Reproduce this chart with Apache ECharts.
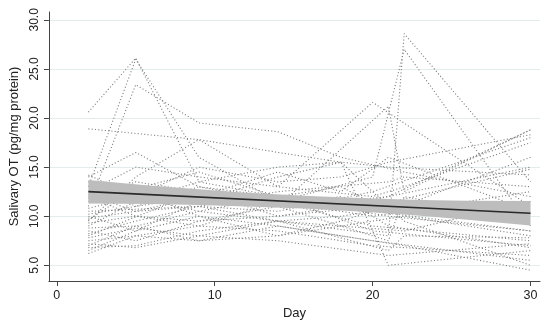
<!DOCTYPE html>
<html><head><meta charset="utf-8">
<script src="https://cdn.jsdelivr.net/npm/echarts@6/dist/echarts.min.js"></script>
<style>html,body{margin:0;padding:0;background:#fff}#c{width:550px;height:326px}</style>
</head><body><div id="c"></div>
<script>
// Measurement days (grid shared by all subjects; null = not measured)
const dayGrid = [2, 5, 9, 14, 18, 20, 21, 22, 30];
// Individual subject trajectories (Salivary OT, pg/mg protein)
const subjects = [
  [20.6, 26.1, 13.5, 12.0, null, null, 10.0, null, 8.5],
  [13.0, 26.0, 16.0, 11.5, null, 9.0, null, null, 7.5],
  [11.0, 23.4, 19.5, 18.6, 16.0, null, null, 14.5, 12.0],
  [18.9, null, 17.8, 16.5, 15.5, null, 15.0, null, 14.2],
  [9.5, 14.0, 17.8, 13.0, null, 21.6, null, null, 11.0],
  [8.0, null, 12.5, 11.0, null, null, 21.2, 12.5, 18.8],
  [10.5, null, 11.0, 9.5, null, null, 8.0, 28.6, 13.5],
  [12.0, 10.0, 9.0, 11.5, null, 14.0, null, 27.0, 9.0],
  [14.2, 12.0, 15.0, 13.5, 14.0, null, 15.5, null, 18.3],
  [7.0, 9.0, 10.5, 12.0, null, 8.5, null, null, 7.0],
  [6.2, 8.0, 7.5, 9.0, 8.0, null, null, 7.0, 4.5],
  [9.0, 11.5, 13.5, 15.0, 15.5, null, 5.0, null, 6.5],
  [11.5, 12.5, 10.0, 8.0, null, 9.5, null, 10.0, 8.0],
  [8.5, 7.5, 9.5, 10.0, 11.0, null, 12.0, null, 15.0],
  [12.5, 15.0, 14.0, 13.0, null, 12.0, null, 13.0, 17.5],
  [10.0, 8.5, 11.5, 14.0, 15.5, null, null, 9.5, 5.0],
  [7.5, 8.0, 9.0, 8.5, null, 7.0, null, null, 6.0],
  [13.5, 11.0, 12.0, 14.5, 12.5, null, 16.0, null, 10.5],
  [9.8, 10.5, 12.0, 11.0, null, null, 7.5, 12.0, 9.5],
  [6.8, 7.0, 8.5, 9.5, 10.0, 10.5, null, null, 8.5],
  [8.2, 9.5, 11.0, 10.5, null, 12.5, null, null, 18.0],
  [10.8, 12.0, 10.5, 9.5, 9.0, null, null, 8.5, 11.5],
  [7.2, 6.8, 8.0, 7.5, null, null, 6.0, null, 7.2],
  [9.3, 10.0, 9.5, 11.0, 12.0, null, 9.0, null, 6.8],
  [11.8, 13.5, 12.5, 10.0, null, 11.0, null, null, 14.8],
  [8.8, 9.0, 7.5, 8.0, 9.5, null, 11.0, null, 10.0],
  [12.2, 10.5, 11.0, 12.5, null, null, 13.5, 14.0, 13.0],
  [6.5, 8.5, 10.0, 9.0, null, 7.5, null, null, 5.5],
  [10.2, 11.0, 13.0, 12.0, 13.0, null, 10.5, null, 16.0],
  [14.0, 16.5, 13.0, 11.5, null, 10.0, null, null, 12.5],
  [7.8, 8.8, 8.0, 9.5, null, null, 6.5, 8.0, 7.8],
  [9.6, 12.8, 14.5, 12.0, 11.5, null, 12.0, null, 18.8]
];
// Fitted line and 95% CI band
const fitDays = [2, 30];
const fitValues = [12.5, 10.3];
const bandDays = [2, 6, 9, 12, 16, 20, 23, 26, 30];
const bandLower = [11.3, 11.25, 11.15, 10.98, 10.75, 10.4, 10.05, 9.65, 9.05];
const bandUpper = [13.7, 13.1, 12.75, 12.4, 12.05, 11.8, 11.65, 11.58, 11.55];
// Axis ticks
const xTicks = [0, 10, 20, 30];
const yTicks = [5, 10, 15, 20, 25, 30];

const font = 'Arial, "Liberation Sans", sans-serif';
const series = [];
subjects.forEach((vals) => {
  const data = [];
  vals.forEach((v, j) => { if (v !== null) data.push([dayGrid[j], v]); });
  series.push({
    type: 'line', data, symbol: 'none', silent: true, z: 2,
    lineStyle: { color: '#808080', width: 1.1, type: [1.1, 2.2] }
  });
});
const bandData = bandDays.map((d, i) => [d, bandLower[i], bandUpper[i]]);
series.push({
  type: 'custom', silent: true, z: 3,
  data: bandData,
  encode: { x: 0, y: [1, 2] },
  renderItem: (params, api) => {
    if (params.dataIndex !== 0) return null;
    const top = [], bot = [];
    bandData.forEach(r => { top.push(api.coord([r[0], r[2]])); bot.push(api.coord([r[0], r[1]])); });
    return { type: 'polygon', shape: { points: top.concat(bot.reverse()) }, style: { fill: '#bdbdbd' } };
  }
});
series.push({
  type: 'line', symbol: 'none', silent: true, z: 4,
  data: fitDays.map((d, i) => [d, fitValues[i]]),
  lineStyle: { color: '#2a2a2a', width: 1.6 }
});

const chart = echarts.init(document.getElementById('c'), null, { renderer: 'canvas' });
chart.setOption({
  animation: false,
  backgroundColor: '#fff',
  grid: { left: 45, right: 10, top: 12, bottom: 45, containLabel: false },
  xAxis: {
    type: 'value', min: -0.5, max: 30.6,
    name: 'Day', nameLocation: 'middle', nameGap: 25,
    nameTextStyle: { fontFamily: font, fontSize: 13, color: '#222' },
    axisLine: { show: true, onZero: false, lineStyle: { color: '#444', width: 1 } },
    axisTick: { show: true, length: 5, customValues: xTicks, lineStyle: { color: '#444' } },
    axisLabel: { customValues: xTicks, fontFamily: font, fontSize: 12.5, color: '#222', margin: 8 },
    splitLine: { show: false }
  },
  yAxis: {
    type: 'value', min: 3.4, max: 30.8,
    name: 'Salivary OT (pg/mg protein)', nameLocation: 'middle', nameGap: 27,
    nameTextStyle: { fontFamily: font, fontSize: 13, color: '#222' },
    axisLine: { show: true, onZero: false, lineStyle: { color: '#444', width: 1 } },
    axisTick: { show: true, length: 5, customValues: yTicks, lineStyle: { color: '#444' } },
    axisLabel: { customValues: yTicks, rotate: 90, fontFamily: font, fontSize: 12, color: '#222', margin: 8,
      formatter: v => v.toFixed(1) },
    splitLine: { show: true, lineStyle: { color: '#e2ecec', width: 1 } }
  },
  series
});
</script></body></html>
